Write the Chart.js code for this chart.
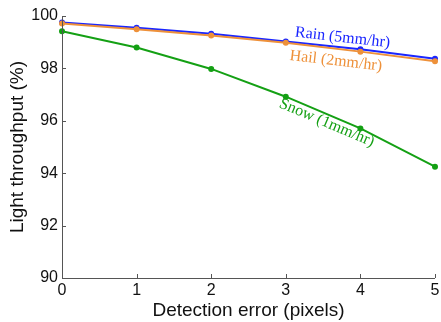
<!DOCTYPE html>
<html><head><meta charset="utf-8">
<script src="https://cdn.jsdelivr.net/npm/chart.js@4/dist/chart.umd.min.js"></script>
<style>html,body{margin:0;padding:0;background:#fff}#wrap{width:441px;height:322px}</style>
</head><body><div id="wrap"><canvas id="c" width="441" height="322"></canvas></div>
<script>
const errors = [0, 1, 2, 3, 4, 5];
const rain = [99.75, 99.55, 99.32, 99.03, 98.73, 98.37];
const hail = [99.71, 99.49, 99.26, 98.98, 98.64, 98.27];
const snow = [99.42, 98.80, 97.98, 96.92, 95.71, 94.25];
const yTicks = [90, 92, 94, 96, 98, 100];
const labels = [
  {text: 'Rain (5mm/hr)', x: 3.76, y: 99.17, angle: 6.5, color: '#1a26ff'},
  {text: 'Hail (2mm/hr)', x: 3.67, y: 98.28, angle: 6.5, color: '#ee913a'},
  {text: 'Snow (1mm/hr)', x: 3.55, y: 95.92, angle: 23, color: '#14a014'}
];

const axisColor = '#555';
const inwardTicks = {
  id: 'inwardTicks',
  afterDraw(chart) {
    const ctx = chart.ctx, xs = chart.scales.x, ys = chart.scales.y, a = chart.chartArea;
    ctx.save();
    ctx.strokeStyle = axisColor; ctx.lineWidth = 1;
    ctx.beginPath();
    ctx.moveTo(a.left + 0.5, a.top); ctx.lineTo(a.left + 0.5, a.bottom + 0.5); ctx.lineTo(a.right, a.bottom + 0.5);
    xs.ticks.forEach(t => { const px = Math.round(xs.getPixelForValue(t.value)) + 0.5; ctx.moveTo(px, a.bottom); ctx.lineTo(px, a.bottom - 4); });
    ys.ticks.forEach(t => { const py = Math.round(ys.getPixelForValue(t.value)) + 0.5; ctx.moveTo(a.left, py); ctx.lineTo(a.left + 4, py); });
    ctx.stroke();
    ctx.font = '16px "Liberation Serif", "Times New Roman", serif';
    ctx.textAlign = 'center'; ctx.textBaseline = 'middle';
    labels.forEach(l => {
      ctx.save();
      ctx.translate(xs.getPixelForValue(l.x), ys.getPixelForValue(l.y));
      ctx.rotate(l.angle * Math.PI / 180);
      ctx.fillStyle = l.color;
      ctx.fillText(l.text, 0, 0);
      ctx.restore();
    });
    ctx.restore();
  }
};

const ds = (data, color) => ({data: errors.map((e, i) => ({x: e, y: data[i]})), borderColor: color, backgroundColor: color, borderWidth: 2, pointRadius: 2, pointHoverRadius: 2, tension: 0, clip: false});

new Chart(document.getElementById('c'), {
  type: 'line',
  data: {datasets: [ds(snow, '#14a014'), ds(hail, '#ee913a'), ds(rain, '#1a26ff')]},
  options: {
    responsive: false, animation: false,
    layout: {padding: {top: 16, right: 6, left: 0, bottom: 0}},
    plugins: {legend: {display: false}, tooltip: {enabled: false}},
    scales: {
      x: {type: 'linear', min: 0, max: 5,
        afterFit(s) { s.height = 44; s.paddingRight = 0; s.paddingLeft = 0; },
        afterBuildTicks(s) { s.ticks = errors.map(v => ({value: v})); },
        grid: {display: false, drawTicks: false},
        border: {display: false},
        ticks: {color: '#111', padding: 3, font: {family: '"Liberation Sans", Arial, sans-serif', size: 16}},
        title: {display: true, text: 'Detection error (pixels)', color: '#111', padding: {top: -5, bottom: 0}, font: {family: '"Liberation Sans", Arial, sans-serif', size: 19}}
      },
      y: {min: 90, max: 100,
        afterFit(s) { s.width = 62; s.paddingTop = 0; s.paddingBottom = 0; },
        afterBuildTicks(s) { s.ticks = yTicks.map(v => ({value: v})); },
        grid: {display: false, drawTicks: false},
        border: {display: false},
        ticks: {color: '#111', padding: 4, font: {family: '"Liberation Sans", Arial, sans-serif', size: 16}},
        title: {display: true, text: 'Light throughput (%)', color: '#111', padding: {top: 6, bottom: 0}, font: {family: '"Liberation Sans", Arial, sans-serif', size: 19}}
      }
    }
  },
  plugins: [inwardTicks]
});
</script></body></html>
